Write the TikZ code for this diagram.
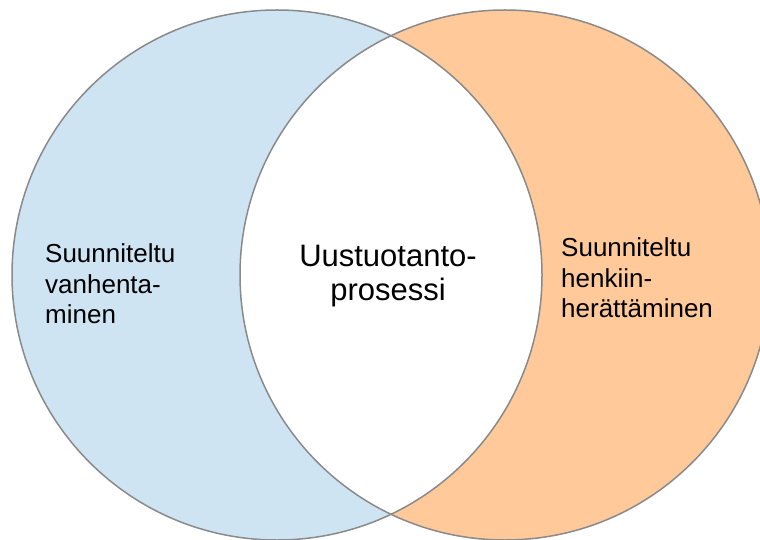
\documentclass[tikz,border=0pt]{standalone}
\usepackage{fontspec}
\setmainfont{Liberation Sans}
\definecolor{setblue}{HTML}{CEE4F3}
\definecolor{setorange}{HTML}{FFC999}
\definecolor{rim}{HTML}{8A8A8A}
\begin{document}
\begin{tikzpicture}[x=1bp,y=-1bp,
  rimline/.style={draw=rim,line width=1.5bp},
  sidetext/.style={inner sep=0pt,align=left,anchor=west,font=\fontsize{26bp}{30.5bp}\selectfont},
  midtext/.style={inner sep=0pt,align=center,font=\fontsize{31bp}{34bp}\selectfont}]
  \useasboundingbox (0,0) rectangle (760,540);
  \clip (0,0) rectangle (760,540);
  \coordinate (cl) at (277,275);
  \coordinate (cr) at (505,275);
  % the two sets
  \fill[setblue] (cl) circle[radius=265];
  \fill[setorange] (cr) circle[radius=265];
  % their overlap stays white
  \begin{scope}
    \clip (cl) circle[radius=265];
    \fill[white] (cr) circle[radius=265];
  \end{scope}
  \draw[rimline] (cl) circle[radius=265];
  \draw[rimline] (cr) circle[radius=265];
  % labels
  \node[sidetext] (left) at (45,284) {Suunniteltu\\vanhenta-\\minen};
  \node[midtext] (mid) at (388,276) {Uustuotanto-\\prosessi};
  \node[sidetext] (right) at (561,278) {Suunniteltu\\henkiin-\\herättäminen};
\end{tikzpicture}
\end{document}
